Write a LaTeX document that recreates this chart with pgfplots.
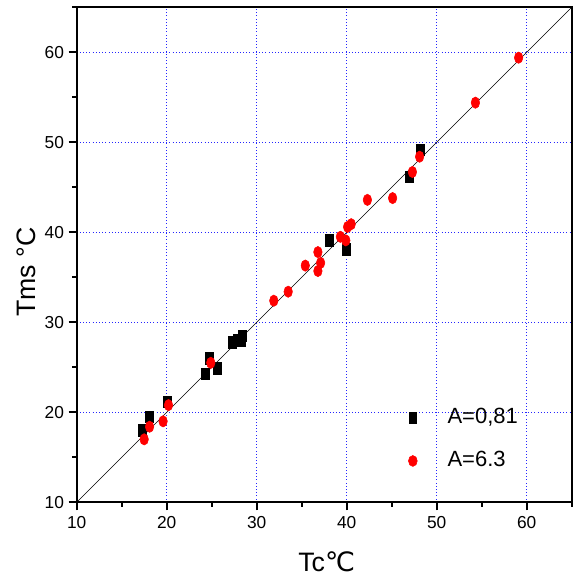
\documentclass[border=0pt]{standalone}
\usepackage{pgfplots}
\pgfplotsset{compat=1.18}
\usepackage{fontspec}
\setmainfont{Liberation Sans}
\newfontfamily\dejavu{DejaVu Sans}
\begin{document}
\begin{tikzpicture}
\begin{axis}[
  scale only axis,
  width=371.25pt, height=371.25pt,
  xmin=10, xmax=65, ymin=10, ymax=65,
  xtick={10,20,...,60}, ytick={10,20,...,60},
  minor xtick={15,25,...,65}, minor ytick={15,25,...,65},
  xtick pos=bottom, ytick pos=left,
  tick align=outside,
  major tick length=6pt, minor tick length=3.2pt,
  every tick/.style={black, line width=1.4pt},
  axis line style={line width=1.5pt},
  grid=major,
  major grid style={blue!85, dotted, line width=0.7pt},
  /pgf/number format/assume math mode=true,
  ticklabel style={font=\fontsize{13}{14}\selectfont},
  xticklabel style={yshift=-1pt},
  xlabel={Tc{\dejavu ℃}},
  ylabel={Tms °C},
  every axis x label/.style={at={(axis description cs:0.505,0)}, yshift=-44.5pt, anchor=center, font=\fontsize{20}{22}\selectfont},
  every axis y label/.style={at={(axis description cs:0,0.465)}, xshift=-37.5pt, anchor=center, rotate=90, font=\fontsize{20}{22}\selectfont},
  legend style={at={(axis cs:46.8,20.7)}, anchor=north west, draw=none, fill=none,
    font=\fontsize{16.5}{16.5}\selectfont, inner sep=0pt, row sep=15.5pt,
    nodes={text height=12pt, text depth=3pt, inner sep=1pt}},
  legend cell align=left,
]
\addplot[only marks, mark=square*, black, mark size=3pt, mark options={yscale=1.42},
  legend image code/.code={\path[draw=none] (-3pt,0pt) -- (25pt,0pt); \fill[black] (-2.6pt,-4.1pt) rectangle (2.6pt,4.1pt);}]
  coordinates {
  (17.3,18.0) (18.1,19.5) (20.1,21.2) (24.3,24.3) (24.7,26.0) (25.6,24.9)
  (27.3,27.8) (27.8,28.0) (28.3,28.0) (28.4,28.5) (38.1,39.1) (39.9,38.1)
  (47.0,46.2) (48.2,49.2)
};
\addlegendentry{A=0,81}
\addplot[only marks, mark=*, red, mark size=3.2pt, mark options={yscale=1.33},
  legend image code/.code={\path[draw=none] (-3pt,0pt) -- (25pt,0pt); \fill[red] (0pt,0pt) ellipse (3.3pt and 4.1pt);}]
  coordinates {
  (17.5,17.0) (18.1,18.4) (19.6,19.0) (20.2,20.8) (24.9,25.5) (31.9,32.4)
  (33.5,33.4) (35.4,36.3) (36.8,37.8) (37.1,36.6) (36.8,35.7) (39.3,39.5)
  (39.9,39.1) (40.1,40.6) (40.5,40.9) (42.3,43.6) (45.1,43.8) (47.3,46.7)
  (48.1,48.4) (54.3,54.4) (59.1,59.4)
};
\addlegendentry{A=6.3}
\addplot[black, line width=0.5pt, forget plot] coordinates {(10,10) (65,65)};
\end{axis}
\pgfresetboundingbox
\path[use as bounding box] (-57.5pt,-57.5pt) rectangle (372.2pt,376.7pt);
\end{tikzpicture}
\end{document}
